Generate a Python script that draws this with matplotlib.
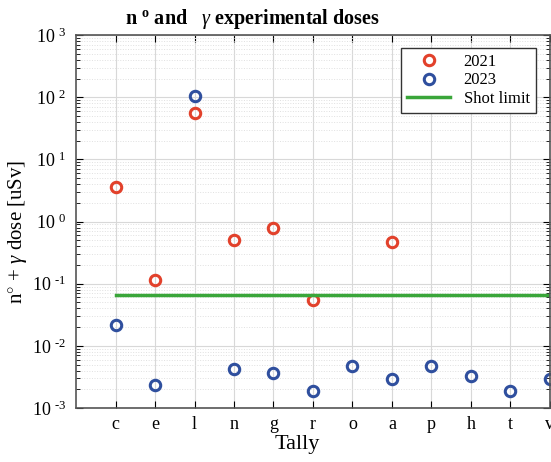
import numpy as np
import matplotlib.pyplot as plt
from matplotlib.ticker import FixedLocator, FixedFormatter, LogLocator, NullFormatter

plt.rcParams['font.family'] = 'Liberation Serif'
plt.rcParams['mathtext.fontset'] = 'custom'
plt.rcParams['mathtext.rm'] = 'Liberation Serif'
plt.rcParams['mathtext.it'] = 'Liberation Serif:italic'
plt.rcParams['mathtext.bf'] = 'Liberation Serif:bold'

# Tally labels and measured doses (uSv)
tallies = ['c', 'e', 'l', 'n', 'g', 'r', 'o', 'a', 'p', 'h', 't', 'v']
dose_2021 = [3.6, 0.115, 56, 0.50, 0.78, 0.054, np.nan, 0.47, np.nan, np.nan, np.nan, np.nan]
dose_2023 = [0.0215, 0.0023, 104, 0.0043, 0.0037, 0.0019, 0.0048, 0.0029, 0.0048, 0.0033, 0.0019, 0.0029]
shot_limit = 0.066

x = np.arange(1, len(tallies) + 1)

fig = plt.figure(figsize=(5.51, 4.62), dpi=100)
ax = fig.add_axes([0.138, 0.117, 0.86, 0.807])

ax.plot(x, dose_2021, 'o', ls='none', mfc='none', mec='#e2412b', mew=2.2, ms=7.5, label='2021')
ax.plot(x, dose_2023, 'o', ls='none', mfc='none', mec='#2f4f9e', mew=2.2, ms=7.5, label='2023')
ax.plot([x[0], x[-1]], [shot_limit, shot_limit], '-', color='#3aa63a', lw=2.5, label='Shot limit')

ax.set_yscale('log')
ax.set_ylim(1e-3, 1e3)
ax.set_xlim(0, 12)

decades = [-3, -2, -1, 0, 1, 2, 3]
ax.yaxis.set_major_locator(FixedLocator([10.0 ** d for d in decades]))
ax.yaxis.set_major_formatter(FixedFormatter([r'10 $^{%d}$' % d if d >= 0 else r'10 $^{\text{-}%d}$' % -d for d in decades]))
ax.yaxis.set_minor_locator(LogLocator(base=10, subs=np.arange(2, 10), numticks=20))
ax.yaxis.set_minor_formatter(NullFormatter())

ax.set_xticks(x)
ax.set_xticklabels(tallies)

ax.tick_params(which='both', direction='in', top=True, right=True, labelsize=13)
ax.tick_params(axis='y', pad=7)
ax.tick_params(axis='x', pad=6)
ax.tick_params(which='major', length=5)
ax.tick_params(which='minor', length=3)

ax.grid(True, which='major', color='#d8d8d8', lw=0.8, ls='-')
ax.grid(True, which='minor', axis='y', color='#e0e0e0', lw=0.7, ls=':')
ax.set_axisbelow(True)
for s in ax.spines.values():
    s.set_color('#555555')
    s.set_linewidth(1.2)

ax.set_xlabel('Tally', fontsize=16, labelpad=1, x=0.466)
ax.set_ylabel(r'n$^{\circ}$ + $\gamma$ dose [uSv]', fontsize=15, labelpad=2, y=0.472)
ax.set_title(r'n $^{\mathbf{o}}$ and   $\gamma$ experimental doses', fontsize=14.5, fontweight='bold', pad=8, x=0.373)

leg = ax.legend(loc='upper right', fontsize=12, fancybox=False, edgecolor='#333333',
                framealpha=1, bbox_to_anchor=(0.97, 0.965), borderaxespad=0,
                handlelength=2.6, labelspacing=0.15, borderpad=0.35)
leg.get_frame().set_linewidth(1.0)

fig.savefig('out.png', dpi=100)
